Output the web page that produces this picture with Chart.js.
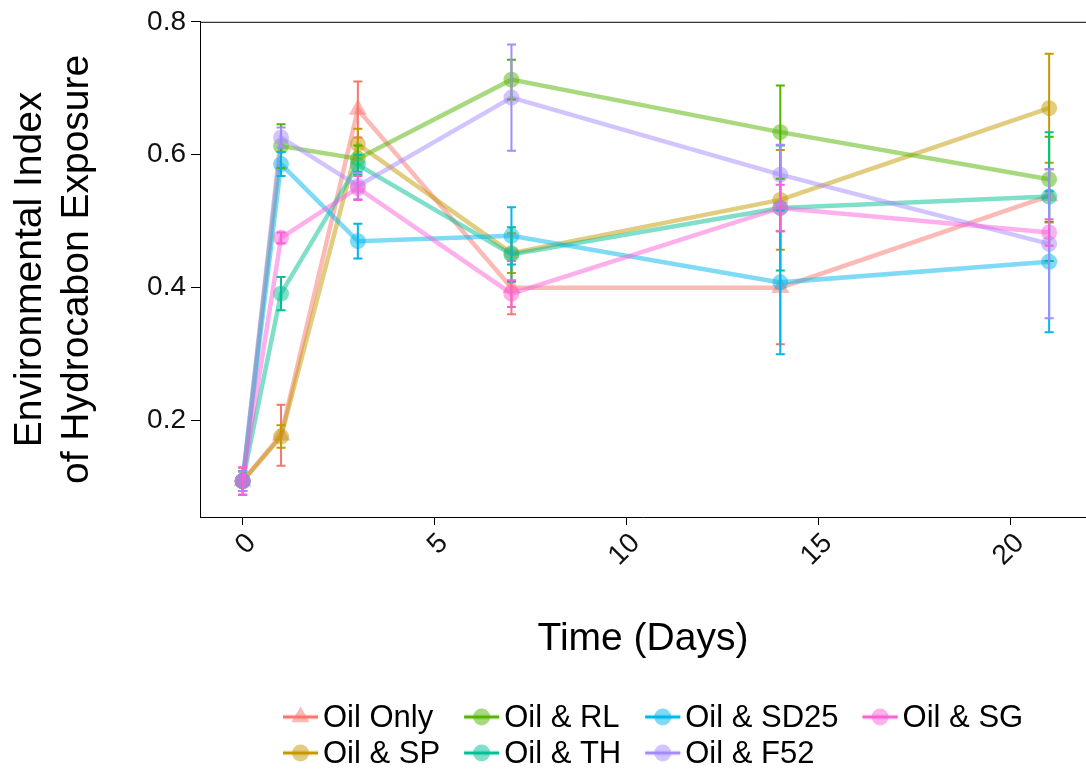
<!DOCTYPE html>
<html>
<head>
<meta charset="utf-8">
<script src="https://cdn.jsdelivr.net/npm/chart.js@4.4.1/dist/chart.umd.min.js"></script>
<style>
html,body{margin:0;padding:0;background:#ffffff;overflow:hidden}
#wrap{width:1086px;height:774px;position:relative}
</style>
</head>
<body>
<div id="wrap"><canvas id="c"></canvas></div>
<script>
// ---- data ----
const days = [0, 1, 3, 7, 14, 21];
const seriesNames = ['Oil Only', 'Oil & SP', 'Oil & RL', 'Oil & TH', 'Oil & SD25', 'Oil & F52', 'Oil & SG'];

const oilOnly    = [0.109, 0.178, 0.668, 0.400, 0.400, 0.538];
const oilOnlySE  = [0.020, 0.046, 0.042, 0.040, 0.085, 0.040];
const oilSP      = [0.109, 0.176, 0.616, 0.452, 0.532, 0.670];
const oilSPSE    = [0.015, 0.017, 0.023, 0.030, 0.075, 0.082];
const oilRL      = [0.109, 0.613, 0.594, 0.713, 0.634, 0.563];
const oilRLSE    = [0.015, 0.033, 0.020, 0.030, 0.070, 0.064];
const oilTH      = [0.109, 0.391, 0.585, 0.450, 0.520, 0.537];
const oilTHSE    = [0.015, 0.025, 0.015, 0.041, 0.094, 0.097];
const oilSD25    = [0.109, 0.586, 0.470, 0.478, 0.408, 0.439];
const oilSD25SE  = [0.015, 0.018, 0.026, 0.043, 0.108, 0.106];
const oilF52     = [0.109, 0.626, 0.553, 0.686, 0.570, 0.466];
const oilF52SE   = [0.015, 0.015, 0.020, 0.080, 0.045, 0.112];
const oilSG      = [0.109, 0.475, 0.550, 0.391, 0.520, 0.483];
const oilSGSE    = [0.021, 0.008, 0.018, 0.020, 0.035, 0.020];

const xTicks = [0, 5, 10, 15, 20];
const yTicks = [0.2, 0.4, 0.6, 0.8];

// ---- styles ----
const seriesColors = ['#F8766D', '#C49A00', '#53B400', '#00C094', '#00B6EB', '#A58AFF', '#FB61D7'];
const seriesShapes = ['triangle', 'circle', 'circle', 'circle', 'circle', 'circle', 'circle'];
const seriesValues = [oilOnly, oilSP, oilRL, oilTH, oilSD25, oilF52, oilSG];
const seriesErrors = [oilOnlySE, oilSPSE, oilRLSE, oilTHSE, oilSD25SE, oilF52SE, oilSGSE];

const FONT = '"Liberation Sans", Arial, Helvetica, sans-serif';

function alpha(hex, a) {
  const n = parseInt(hex.slice(1), 16);
  return `rgba(${(n >> 16) & 255},${(n >> 8) & 255},${n & 255},${a})`;
}

const datasets = seriesNames.map((name, i) => ({
  label: name,
  data: days.map((d, j) => ({ x: d, y: seriesValues[i][j], se: seriesErrors[i][j] })),
  borderColor: alpha(seriesColors[i], 0.5),
  backgroundColor: alpha(seriesColors[i], 0.5),
  borderWidth: 4.5,
  pointStyle: seriesShapes[i],
  pointRadius: seriesShapes[i] === 'triangle' ? 10.5 : 8,
  pointBorderWidth: 0,
  pointBackgroundColor: alpha(seriesColors[i], 0.5),
  pointHoverRadius: 8,
  tension: 0,
  fill: false,
  clip: false,
  order: seriesNames.length - i
}));

// error bars drawn through the chart's scales
const errorBarPlugin = {
  id: 'errorBars',
  afterDatasetsDraw(chart) {
    const { ctx, scales: { x, y } } = chart;
    ctx.save();
    chart.data.datasets.forEach((ds, i) => {
      ctx.strokeStyle = seriesColors[i];
      ctx.lineWidth = 2;
      ds.data.forEach(p => {
        const px = x.getPixelForValue(p.x);
        const y1 = y.getPixelForValue(p.y - p.se);
        const y2 = y.getPixelForValue(p.y + p.se);
        ctx.beginPath();
        ctx.moveTo(px, y1); ctx.lineTo(px, y2);
        ctx.moveTo(px - 4.5, y1); ctx.lineTo(px + 4.5, y1);
        ctx.moveTo(px - 4.5, y2); ctx.lineTo(px + 4.5, y2);
        ctx.stroke();
      });
    });
    ctx.restore();
  }
};

// top frame line of the panel
const frameTopPlugin = {
  id: 'frameTop',
  afterDraw(chart) {
    const { ctx, chartArea } = chart;
    ctx.save();
    ctx.strokeStyle = '#000';
    ctx.lineWidth = 1;
    ctx.beginPath();
    ctx.moveTo(chartArea.left, chartArea.top + 0.5);
    ctx.lineTo(chartArea.right, chartArea.top + 0.5);
    ctx.stroke();
    ctx.restore();
  }
};

// ggplot-style legend: 2 rows, filled column by column
const legendPlugin = {
  id: 'ggLegend',
  afterDraw(chart) {
    const ctx = chart.ctx;
    const rows = 2, cols = 4;
    const startX = 283, rowY = [717, 753];
    const keyW = 35, textGap = 5, colGap = 24;
    ctx.save();
    ctx.font = '31px ' + FONT;
    ctx.textBaseline = 'middle';
    ctx.textAlign = 'left';
    const items = chart.data.datasets;
    let x = startX;
    for (let c = 0; c < cols; c++) {
      let w = 0;
      for (let r = 0; r < rows; r++) {
        const it = items[c * rows + r];
        if (it) w = Math.max(w, ctx.measureText(it.label).width);
      }
      for (let r = 0; r < rows; r++) {
        const idx = c * rows + r;
        const it = items[idx];
        if (!it) continue;
        const cy = rowY[r];
        const col = seriesColors[idx];
        ctx.strokeStyle = alpha(col, 0.5);
        ctx.lineWidth = 4.5;
        ctx.beginPath(); ctx.moveTo(x, cy); ctx.lineTo(x + keyW, cy); ctx.stroke();
        ctx.strokeStyle = col;
        ctx.lineWidth = 2;
        ctx.beginPath(); ctx.moveTo(x, cy); ctx.lineTo(x + keyW, cy); ctx.stroke();
        ctx.fillStyle = alpha(col, 0.5);
        const cx = x + keyW / 2;
        ctx.beginPath();
        if (seriesShapes[idx] === 'triangle') {
          const rr = 10.5;
          ctx.moveTo(cx, cy - rr);
          ctx.lineTo(cx + rr * 0.866, cy + rr * 0.5);
          ctx.lineTo(cx - rr * 0.866, cy + rr * 0.5);
          ctx.closePath();
        } else {
          ctx.arc(cx, cy, 8.5, 0, Math.PI * 2);
        }
        ctx.fill();
        ctx.fillStyle = '#000';
        ctx.fillText(it.label, x + keyW + textGap, cy + 1);
      }
      x += keyW + textGap + w + colGap;
    }
    ctx.restore();
  }
};

new Chart(document.getElementById('c'), {
  type: 'line',
  data: { datasets },
  plugins: [errorBarPlugin, frameTopPlugin, legendPlugin],
  options: {
    responsive: true,
    maintainAspectRatio: false,
    animation: false,
    layout: { autoPadding: false, padding: { top: 20, left: 0, right: 0, bottom: 110 } },
    plugins: { legend: { display: false }, tooltip: { enabled: false } },
    scales: {
      x: {
        type: 'linear',
        min: -1.11,
        max: 21.96,
        afterBuildTicks: (s) => { s.ticks = xTicks.map(v => ({ value: v })); },
        afterFit: (s) => { s.height = 147; s.paddingRight = 0; s.paddingLeft = 0; },
        ticks: {
          font: { family: FONT, size: 28 },
          color: '#111',
          maxRotation: 45,
          minRotation: 45,
          padding: 2,
          labelOffset: 9
        },
        grid: { display: true, drawOnChartArea: false, drawTicks: true, tickLength: 8, color: '#000' },
        border: { display: true, color: '#000', width: 1 },
        title: {
          display: true,
          text: 'Time (Days)',
          font: { family: FONT, size: 39, lineHeight: 1.1 },
          color: '#000',
          padding: { top: 0, bottom: 3 }
        }
      },
      y: {
        min: 0.055,
        max: 0.8,
        afterBuildTicks: (s) => { s.ticks = yTicks.map(v => ({ value: v })); },
        afterFit: (s) => { s.width = 200; },
        ticks: {
          font: { family: FONT, size: 28 },
          color: '#111',
          padding: 5
        },
        grid: { display: true, drawOnChartArea: false, drawTicks: true, tickLength: 9, color: '#000' },
        border: { display: true, color: '#000', width: 1 },
        title: {
          display: true,
          text: ['Environmental Index', 'of Hydrocabon Exposure'],
          font: { family: FONT, size: 39, lineHeight: 1.2 },
          color: '#000',
          padding: { top: 7, bottom: 0 }
        }
      }
    }
  }
});
</script>
</body>
</html>
